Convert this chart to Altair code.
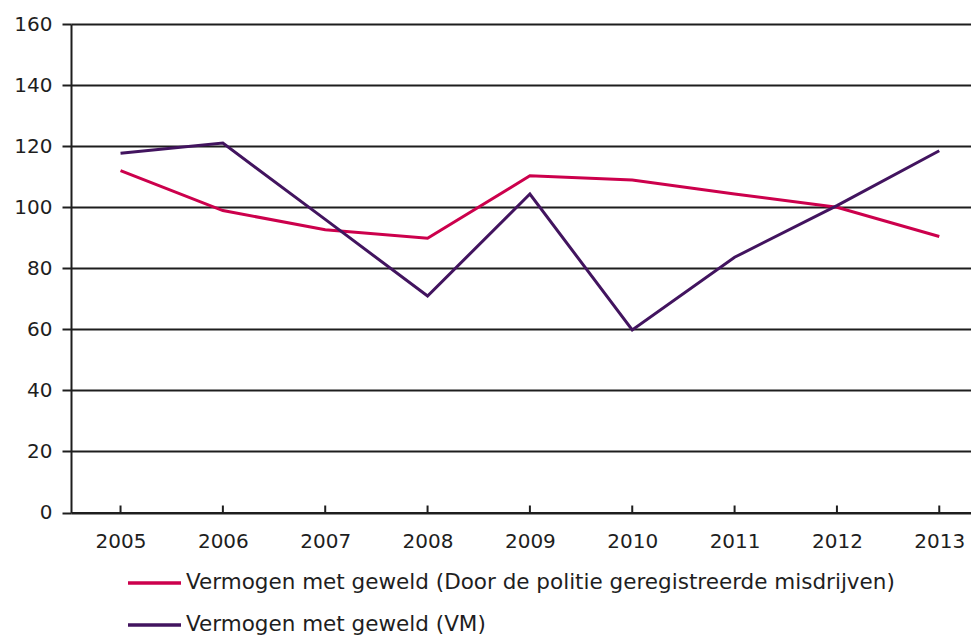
import altair as alt
import pandas as pd

# ---- data ----
years = [2005, 2006, 2007, 2008, 2009, 2010, 2011, 2012, 2013]
series_names = [
    "Vermogen met geweld (Door de politie geregistreerde misdrijven)",
    "Vermogen met geweld (VM)",
]
politie = [112.0, 98.9, 92.6, 89.8, 110.3, 108.9, 104.3, 100.0, 90.4]
vm = [117.7, 121.0, 96.0, 70.9, 104.3, 59.8, 83.6, 100.5, 118.5]
colors = ["#cc004c", "#42145f"]
y_ticks = [0, 20, 40, 60, 80, 100, 120, 140, 160]

rows = []
for name, vals in zip(series_names, [politie, vm]):
    for yr, v in zip(years, vals):
        rows.append({"jaar": yr, "waarde": v, "reeks": name})
df = pd.DataFrame(rows)
tick_df = pd.DataFrame({"jaar": years})

W, H = 900, 488.5
FONT = "DejaVu Sans"
INK = "#1e1e1e"

x_scale = alt.Scale(domain=[2004.516, 2013.31], nice=False, zero=False)
y_scale = alt.Scale(domain=[0, 160], nice=False, zero=True)

lines = alt.Chart(df).mark_line(strokeWidth=3).encode(
    x=alt.X(
        "jaar:Q",
        scale=x_scale,
        axis=alt.Axis(
            values=years, format="d", title=None, grid=False, ticks=False,
            tickSize=0, labelPadding=19, labelFontSize=20, labelFont=FONT,
            labelColor=INK, domainColor=INK, domainWidth=2,
            labelFlush=False, labelOverlap=False,
        ),
    ),
    y=alt.Y(
        "waarde:Q",
        scale=y_scale,
        axis=alt.Axis(
            values=y_ticks, title=None, grid=True, gridColor=INK, gridWidth=2,
            tickSize=9, tickColor=INK, tickWidth=2, labelPadding=10,
            labelFontSize=20, labelFont=FONT, labelColor=INK,
            domainColor=INK, domainWidth=2, labelFlush=False, labelOverlap=False,
        ),
    ),
    color=alt.Color(
        "reeks:N",
        scale=alt.Scale(domain=series_names, range=colors),
        legend=alt.Legend(
            title=None, orient="none", legendX=55, legendY=548.5,
            direction="vertical", symbolType="stroke", symbolSize=2809,
            symbolStrokeWidth=3.5, clipHeight=21, rowPadding=20,
            labelFontSize=21.5, labelFont=FONT, labelColor=INK,
            labelOffset=3, labelLimit=0, padding=0,
        ),
    ),
)

xticks = alt.Chart(tick_df).mark_rule(color=INK, strokeWidth=2).encode(
    x=alt.X("jaar:Q", scale=x_scale),
    y=alt.value(H),
    y2=alt.value(H - 7),
)

chart = (
    alt.layer(lines, xticks)
    .properties(
        width=W,
        height=H,
        padding={"left": 63, "top": 16, "right": 0, "bottom": 122},
        autosize="none",
        background="white",
    )
    .configure_view(stroke=None)
)

chart.save("out.html", embed_options={"renderer": "svg", "actions": False})
